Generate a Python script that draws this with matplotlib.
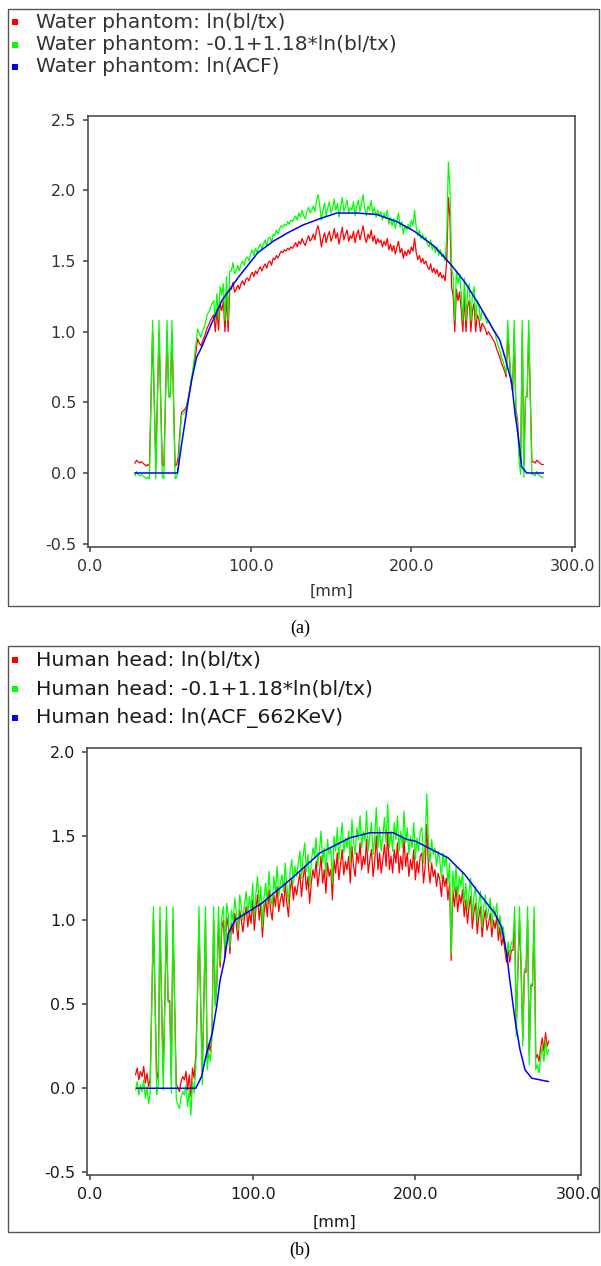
import numpy as np
import matplotlib
matplotlib.use("Agg")
import matplotlib.pyplot as plt
from matplotlib.patches import Rectangle

plt.rcParams["axes.unicode_minus"] = False

W, H = 601, 1266

# position along the profile, one sample per mm
mm = np.arange(28, 283)

# (a) water phantom
red_a = [0.07, 0.09, 0.08, 0.07, 0.08, 0.07, 0.06, 0.05, 0.06, 0.05,
         0.54, 1.00, 0.54, 0.05, 0.54, 1.00, 0.54, 0.06, 0.05, 0.54,
         1.00, 0.54, 0.54, 1.00, 0.54, 0.05, 0.06, 0.12, 0.30, 0.43,
         0.44, 0.45, 0.47, 0.52, 0.58, 0.64, 0.70, 0.78, 0.86, 0.95,
         0.92, 0.90, 0.93, 0.96, 0.99, 1.03, 1.05, 1.08, 1.10, 1.12,
         1.00, 1.16, 1.01, 1.20, 1.15, 1.22, 1.00, 1.26, 1.00, 1.30,
         1.30, 1.35, 1.28, 1.30, 1.33, 1.30, 1.34, 1.36, 1.33, 1.37,
         1.38, 1.36, 1.40, 1.42, 1.39, 1.43, 1.41, 1.44, 1.46, 1.43,
         1.46, 1.48, 1.45, 1.49, 1.50, 1.47, 1.52, 1.51, 1.54, 1.52,
         1.55, 1.57, 1.56, 1.58, 1.57, 1.59, 1.58, 1.60, 1.59, 1.61,
         1.63, 1.60, 1.64, 1.62, 1.66, 1.63, 1.61, 1.65, 1.68, 1.64,
         1.66, 1.69, 1.65, 1.72, 1.75, 1.69, 1.60, 1.66, 1.70, 1.63,
         1.68, 1.71, 1.64, 1.67, 1.73, 1.66, 1.70, 1.62, 1.68, 1.74,
         1.65, 1.69, 1.72, 1.64, 1.68, 1.66, 1.71, 1.63, 1.69, 1.72,
         1.65, 1.70, 1.75, 1.67, 1.63, 1.69, 1.66, 1.72, 1.64, 1.68,
         1.62, 1.66, 1.63, 1.65, 1.60, 1.64, 1.61, 1.66, 1.58, 1.62,
         1.57, 1.61, 1.55, 1.60, 1.64, 1.56, 1.59, 1.52, 1.57, 1.54,
         1.58, 1.55, 1.60, 1.57, 1.66, 1.56, 1.51, 1.54, 1.49, 1.52,
         1.48, 1.50, 1.46, 1.44, 1.48, 1.42, 1.45, 1.41, 1.44, 1.39,
         1.42, 1.38, 1.40, 1.36, 1.50, 1.95, 1.80, 1.32, 1.25, 1.00,
         1.30, 1.22, 1.28, 1.16, 1.00, 1.25, 1.00, 1.18, 1.22, 1.00,
         1.15, 1.20, 1.00, 1.12, 1.09, 1.00, 1.06, 1.04, 1.02, 0.98,
         1.00, 0.98, 0.96, 0.94, 0.92, 0.88, 0.85, 0.82, 0.78, 0.75,
         0.72, 0.68, 1.00, 0.80, 0.64, 0.58, 1.00, 0.45, 0.38, 0.16,
         0.08, 1.00, 0.06, 0.54, 0.54, 1.00, 0.54, 0.08, 0.08, 0.07,
         0.09, 0.08, 0.07, 0.06, 0.06]

green_a = [-0.02, 0.01, -0.01, -0.02, -0.01, -0.02, -0.03, -0.04, -0.03, -0.04,
           0.54, 1.08, 0.54, -0.04, 0.54, 1.08, 0.54, -0.03, -0.04, 0.54,
           1.08, 0.54, 0.54, 1.08, 0.54, -0.04, -0.03, 0.04, 0.25, 0.41,
           0.42, 0.43, 0.45, 0.51, 0.58, 0.66, 0.73, 0.82, 0.91, 1.02,
           0.99, 0.96, 1.00, 1.03, 1.07, 1.12, 1.14, 1.17, 1.20, 1.22,
           1.08, 1.27, 1.09, 1.32, 1.26, 1.34, 1.08, 1.39, 1.08, 1.43,
           1.43, 1.49, 1.41, 1.43, 1.47, 1.43, 1.48, 1.50, 1.47, 1.52,
           1.53, 1.50, 1.55, 1.58, 1.54, 1.59, 1.56, 1.60, 1.62, 1.59,
           1.62, 1.65, 1.61, 1.66, 1.67, 1.63, 1.69, 1.68, 1.72, 1.69,
           1.73, 1.75, 1.74, 1.76, 1.75, 1.78, 1.76, 1.79, 1.78, 1.80,
           1.82, 1.79, 1.84, 1.81, 1.86, 1.82, 1.80, 1.85, 1.88, 1.84,
           1.86, 1.89, 1.85, 1.93, 1.97, 1.89, 1.79, 1.86, 1.91, 1.82,
           1.88, 1.92, 1.84, 1.87, 1.94, 1.86, 1.91, 1.81, 1.88, 1.95,
           1.85, 1.89, 1.93, 1.84, 1.88, 1.86, 1.92, 1.82, 1.89, 1.93,
           1.85, 1.91, 1.97, 1.87, 1.82, 1.89, 1.86, 1.93, 1.84, 1.88,
           1.81, 1.86, 1.82, 1.85, 1.79, 1.84, 1.80, 1.86, 1.76, 1.81,
           1.75, 1.80, 1.73, 1.79, 1.84, 1.74, 1.78, 1.69, 1.75, 1.72,
           1.76, 1.73, 1.79, 1.75, 1.86, 1.74, 1.68, 1.72, 1.66, 1.69,
           1.65, 1.67, 1.62, 1.60, 1.65, 1.58, 1.61, 1.56, 1.60, 1.54,
           1.58, 1.53, 1.55, 1.50, 1.67, 2.20, 2.02, 1.46, 1.38, 1.08,
           1.43, 1.34, 1.41, 1.27, 1.08, 1.38, 1.08, 1.29, 1.34, 1.08,
           1.26, 1.32, 1.08, 1.22, 1.19, 1.08, 1.15, 1.13, 1.10, 1.06,
           1.08, 1.06, 1.03, 1.01, 0.99, 0.94, 0.90, 0.87, 0.82, 0.79,
           0.75, 0.70, 1.08, 0.84, 0.66, 0.58, 1.08, 0.43, 0.35, 0.09,
           -0.01, 1.08, -0.03, 0.54, 0.54, 1.08, 0.54, -0.01, -0.01, -0.02,
           0.01, -0.01, -0.02, -0.03, -0.03]

acf_a_x = [28, 54.5, 57, 59, 61, 63.3, 66.4, 69.5, 75, 82, 92, 104.5, 114, 123,
           132.5, 143, 153.5, 166, 178.4, 190.8, 202, 214.7, 225, 233.3, 241.6,
           250, 255, 258.2, 262.4, 264.5, 266.5, 268.6, 271.7, 282]
acf_a_y = [0, 0, 0.2, 0.35, 0.5, 0.66, 0.82, 0.89, 1.04, 1.22, 1.38, 1.56, 1.64,
           1.70, 1.755, 1.80, 1.84, 1.84, 1.83, 1.78, 1.71, 1.60, 1.47, 1.35,
           1.20, 1.035, 0.94, 0.82, 0.64, 0.42, 0.26, 0.045, 0, 0]

# (b) human head
red_b = [0.08, 0.12, 0.05, 0.10, 0.07, 0.13, 0.03, 0.09, 0.01, 0.06,
         0.52, 1.00, 0.52, 0.05, 0.10, 1.00, 0.52, 0.08, 0.52, 1.00,
         0.52, 0.52, 0.06, 1.00, 0.52, 0.03, 0.00, -0.02, 0.04, 0.07,
         0.05, 0.10, -0.01, 0.08, -0.05, 0.12, 0.06, 0.19, 0.52, 1.00,
         0.52, 0.10, 0.52, 1.00, 0.18, 0.26, 0.22, 0.34, 1.00, 0.50,
         0.62, 1.00, 0.72, 0.95, 1.00, 0.78, 1.02, 0.96, 0.80, 0.98,
         0.92, 1.04, 0.97, 0.88, 1.06, 1.00, 0.93, 1.02, 1.08, 0.96,
         1.05, 0.98, 1.12, 0.94, 1.07, 1.15, 1.00, 1.10, 0.90, 1.05,
         1.12, 1.02, 1.18, 1.06, 1.00, 1.15, 1.08, 1.20, 1.05, 1.12,
         1.16, 1.08, 1.22, 1.10, 1.02, 1.18, 1.24, 1.12, 1.20, 1.15,
         1.22, 1.28, 1.14, 1.25, 1.32, 1.18, 1.26, 1.10, 1.22, 1.30,
         1.25, 1.35, 1.20, 1.28, 1.38, 1.22, 1.30, 1.16, 1.34, 1.26,
         1.30, 1.12, 1.36, 1.28, 1.40, 1.24, 1.33, 1.42, 1.27, 1.35,
         1.30, 1.38, 1.22, 1.44, 1.32, 1.26, 1.40, 1.34, 1.46, 1.30,
         1.38, 1.33, 1.48, 1.28, 1.36, 1.42, 1.26, 1.35, 1.50, 1.30,
         1.40, 1.28, 1.36, 1.45, 1.32, 1.52, 1.30, 1.38, 1.28, 1.42,
         1.34, 1.46, 1.28, 1.38, 1.30, 1.48, 1.32, 1.40, 1.26, 1.36,
         1.30, 1.42, 1.24, 1.35, 1.28, 1.38, 1.40, 1.22, 1.32, 1.57,
         1.32, 1.22, 1.34, 1.26, 1.30, 1.20, 1.28, 1.24, 1.14, 1.27,
         1.20, 1.25, 1.12, 1.22, 0.76, 1.18, 1.08, 1.20, 1.05, 1.15,
         1.10, 1.18, 1.02, 1.12, 0.98, 1.08, 1.14, 0.95, 1.05, 1.10,
         0.92, 1.02, 1.08, 0.90, 1.00, 1.06, 0.94, 0.98, 1.04, 0.90,
         1.00, 0.95, 1.02, 0.88, 0.96, 0.85, 0.90, 0.82, 0.75, 0.82,
         0.75, 0.82, 0.82, 1.00, 0.35, 0.70, 1.00, 0.70, 0.30, 0.69,
         0.69, 1.00, 0.20, 0.61, 0.61, 1.00, 0.18, 0.20, 0.16, 0.24,
         0.30, 0.22, 0.33, 0.25, 0.28]

green_b = [-0.01, 0.04, -0.04, 0.02, -0.02, 0.05, -0.06, 0.01, -0.09, -0.03,
           0.51, 1.08, 0.51, -0.04, 0.02, 1.08, 0.51, -0.01, 0.51, 1.08,
           0.51, 0.51, -0.03, 1.08, 0.51, -0.06, -0.10, -0.12, -0.05, -0.02,
           -0.04, 0.02, -0.11, -0.01, -0.16, 0.04, -0.03, 0.12, 0.51, 1.08,
           0.51, 0.02, 0.51, 1.08, 0.11, 0.21, 0.16, 0.30, 1.08, 0.49,
           0.63, 1.08, 0.75, 1.02, 1.08, 0.82, 1.10, 1.03, 0.84, 1.06,
           0.99, 1.13, 1.04, 0.94, 1.15, 1.08, 1.00, 1.10, 1.17, 1.03,
           1.14, 1.06, 1.22, 1.01, 1.16, 1.26, 1.08, 1.20, 0.96, 1.14,
           1.22, 1.10, 1.29, 1.15, 1.08, 1.26, 1.17, 1.32, 1.14, 1.22,
           1.27, 1.17, 1.34, 1.20, 1.10, 1.29, 1.36, 1.22, 1.32, 1.26,
           1.34, 1.41, 1.25, 1.38, 1.46, 1.29, 1.39, 1.20, 1.34, 1.43,
           1.38, 1.49, 1.32, 1.41, 1.53, 1.34, 1.43, 1.27, 1.48, 1.39,
           1.43, 1.22, 1.50, 1.41, 1.55, 1.36, 1.47, 1.58, 1.40, 1.49,
           1.43, 1.53, 1.34, 1.60, 1.46, 1.39, 1.55, 1.48, 1.62, 1.43,
           1.53, 1.47, 1.65, 1.41, 1.50, 1.58, 1.39, 1.49, 1.67, 1.43,
           1.55, 1.41, 1.50, 1.61, 1.46, 1.69, 1.43, 1.53, 1.41, 1.58,
           1.48, 1.62, 1.41, 1.53, 1.43, 1.65, 1.46, 1.55, 1.39, 1.50,
           1.43, 1.58, 1.36, 1.49, 1.41, 1.53, 1.55, 1.34, 1.46, 1.75,
           1.46, 1.34, 1.48, 1.39, 1.43, 1.32, 1.41, 1.36, 1.25, 1.40,
           1.32, 1.38, 1.22, 1.34, 0.80, 1.29, 1.17, 1.32, 1.14, 1.26,
           1.20, 1.29, 1.10, 1.22, 1.06, 1.17, 1.25, 1.02, 1.14, 1.20,
           0.99, 1.10, 1.17, 0.96, 1.08, 1.15, 1.01, 1.06, 1.13, 0.96,
           1.08, 1.02, 1.10, 0.94, 1.03, 0.90, 0.96, 0.87, 0.79, 0.87,
           0.79, 0.87, 0.87, 1.08, 0.31, 0.73, 1.08, 0.73, 0.25, 0.71,
           0.71, 1.08, 0.14, 0.62, 0.62, 1.08, 0.11, 0.14, 0.09, 0.18,
           0.25, 0.16, 0.29, 0.20, 0.23]

acf_b_x = [28.7, 65, 68.6, 71.7, 75.2, 77.9, 79.9, 82.6, 85, 89.1, 97.3, 105.5,
           113, 122.9, 131.1, 141.4, 151.6, 159.8, 172.1, 186.4, 194.7, 200,
           212, 220.2, 230.5, 240.7, 248.9, 253, 256.1, 258.1, 261.2, 264.3,
           267.4, 271.5, 281.7]
acf_b_y = [0, 0, 0.07, 0.21, 0.33, 0.49, 0.64, 0.76, 0.92, 1.0, 1.05, 1.10,
           1.16, 1.24, 1.31, 1.40, 1.45, 1.49, 1.52, 1.52, 1.48, 1.47, 1.41,
           1.37, 1.27, 1.14, 1.04, 0.96, 0.80, 0.64, 0.41, 0.23, 0.11, 0.06,
           0.04]

labels_a = ["Water phantom: ln(bl/tx)",
            "Water phantom: -0.1+1.18*ln(bl/tx)",
            "Water phantom: ln(ACF)"]
labels_b = ["Human head: ln(bl/tx)",
            "Human head: -0.1+1.18*ln(bl/tx)",
            "Human head: ln(ACF_662KeV)"]
colors = ["#ff0000", "#00ff00", "#0000ff"]

fig = plt.figure(figsize=(W / 100, H / 100), dpi=100)


def fx(px):
    return px / W


def fy(py):
    return 1 - py / H


def frame(x0, y0, x1, y1):
    fig.patches.append(Rectangle((fx(x0), fy(y1)), fx(x1) - fx(x0), fy(y0) - fy(y1),
                                 transform=fig.transFigure, fill=False,
                                 edgecolor="#555555", lw=1.0))


def legend(labels, rows, txtcol, size):
    for lab, col, py in zip(labels, colors, rows):
        fig.patches.append(Rectangle((fx(12), fy(py + 3)), fx(6), 6 / H,
                                     transform=fig.transFigure, color=col, lw=0))
        fig.text(fx(36), fy(py), lab, fontsize=size, color=txtcol,
                 va="center", ha="left")


def panel(box, red, green, acf_x, acf_y, xlim, ylim, yticks, txtcol, lpad):
    x0, y0, x1, y1 = box
    ax = fig.add_axes([fx(x0), fy(y1), fx(x1) - fx(x0), fy(y0) - fy(y1)])
    ax.plot(mm, red, color=colors[0], lw=0.9)
    ax.plot(mm, green, color=colors[1], lw=0.9)
    ax.plot(acf_x, acf_y, color=colors[2], lw=1.1)
    ax.set_xlim(*xlim)
    ax.set_ylim(*ylim)
    ax.set_xticks([0, 100, 200, 300])
    ax.set_yticks(yticks)
    ax.xaxis.set_major_formatter("{x:.1f}")
    ax.yaxis.set_major_formatter("{x:.1f}")
    for s in ax.spines.values():
        s.set_color("#404040")
        s.set_linewidth(1.1)
    ax.tick_params(direction="out", length=3.6, width=1.1, color="#404040",
                   labelsize=11.5, labelcolor=txtcol, pad=5)
    ax.set_xlabel("[mm]", fontsize=11.5, color=txtcol, labelpad=lpad)
    return ax


frame(8, 9, 599, 606)
legend(labels_a, [22, 45, 67], "#333333", 14.5)
panel((88, 116, 575, 547), red_a, green_a, acf_a_x, acf_a_y,
      (-1.2, 301.8), (-0.524, 2.527), [-0.5, 0, 0.5, 1.0, 1.5, 2.0, 2.5],
      "#333333", 7)
fig.text(fx(300), fy(628), "(a)", fontsize=13, family="Liberation Serif",
         ha="center", va="center")

frame(8, 646, 599, 1232)
legend(labels_b, [660, 689, 718], "#1a1a1a", 14.7)
panel((87.3, 748, 581, 1175), red_b, green_b, acf_b_x, acf_b_y,
      (-1.66, 301.8), (-0.516, 2.024), [-0.5, 0, 0.5, 1.0, 1.5, 2.0],
      "#1a1a1a", 9)
fig.text(fx(300), fy(1250), "(b)", fontsize=13, family="Liberation Serif",
         ha="center", va="center")

fig.savefig("out.png", dpi=100)
